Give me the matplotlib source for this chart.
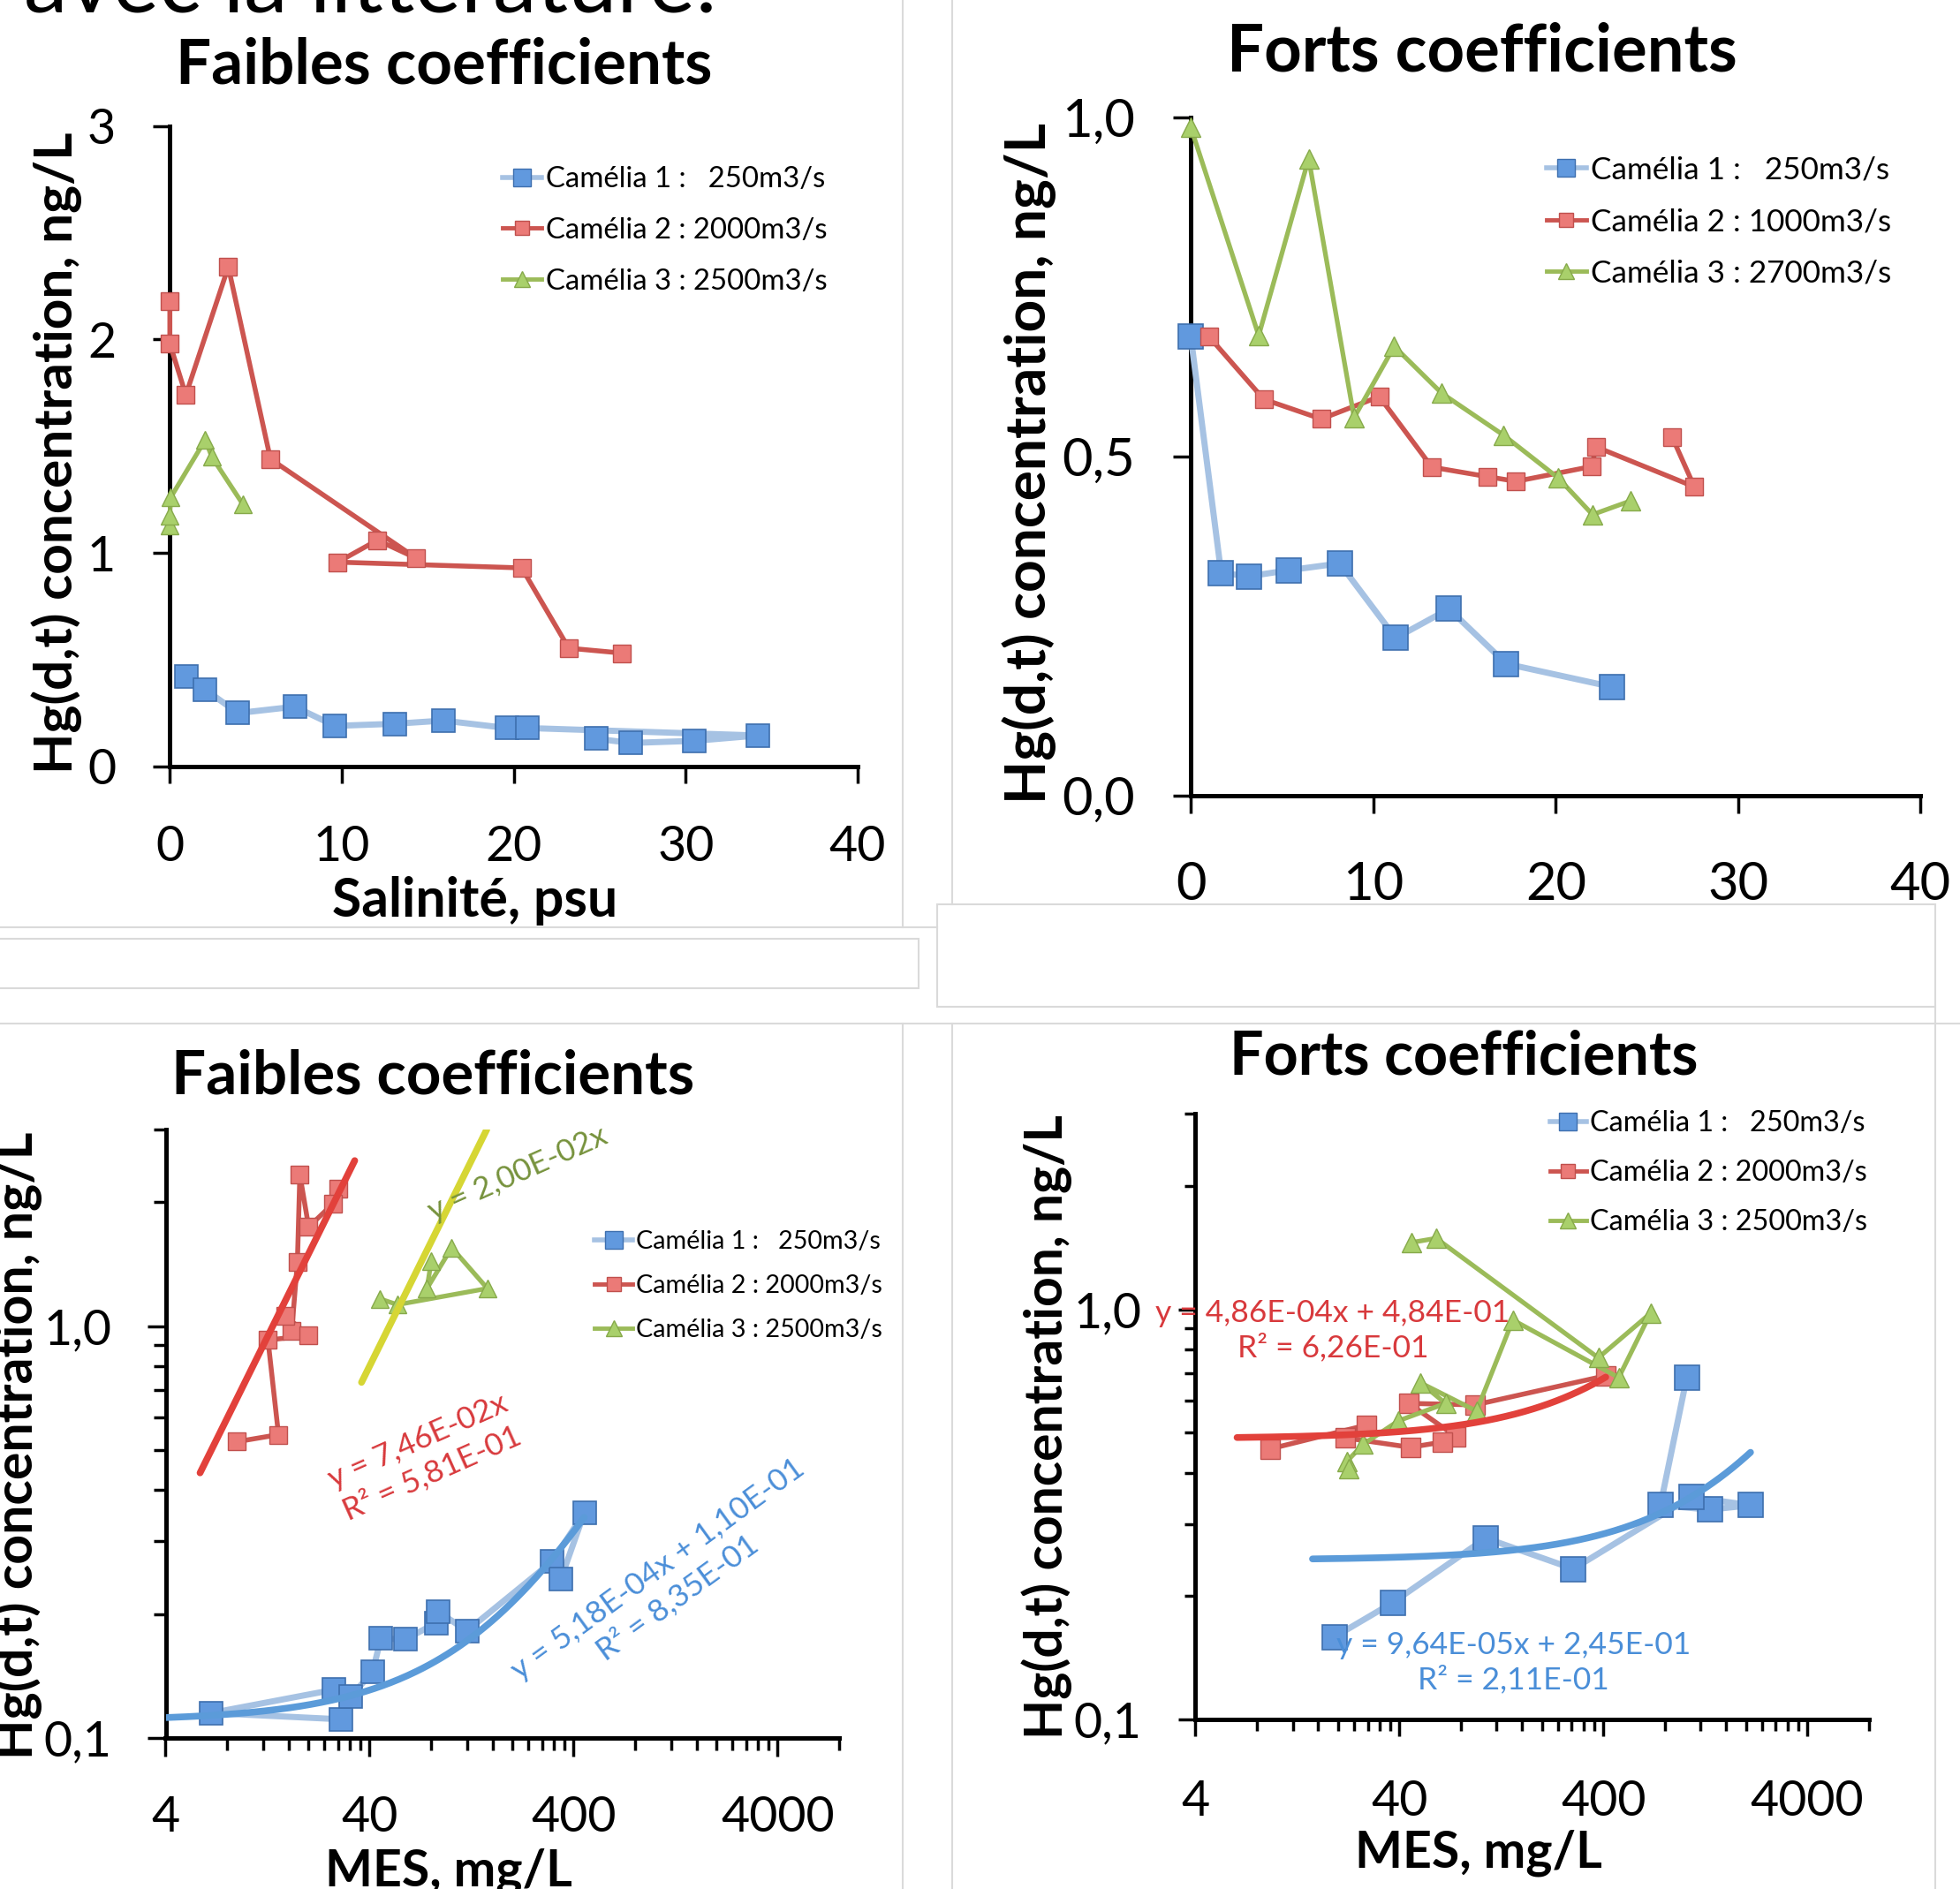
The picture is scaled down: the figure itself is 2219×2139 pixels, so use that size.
import numpy as np
import matplotlib
matplotlib.use('Agg')
import matplotlib.pyplot as plt
from matplotlib.lines import Line2D
from matplotlib.patches import Rectangle
from matplotlib.ticker import NullFormatter

plt.rcParams['font.family'] = ['Lato', 'DejaVu Sans']

W, H = 2219, 2139

# ---------------- data: Hg vs salinity ----------------
sal_low_c1 = [0.96, 2.06, 3.96, 7.26, 9.6, 13.1, 15.9, 19.6, 20.8, 34.2, 30.5, 26.8, 24.8]
hg_low_c1 = [0.42, 0.36, 0.25, 0.28, 0.19, 0.20, 0.215, 0.18, 0.18, 0.145, 0.12, 0.11, 0.13]
sal_low_c2 = [0, 0, 0.93, 3.4, 5.85, 14.34, 12.07, 9.77, 20.46, 23.2, 26.3]
hg_low_c2 = [2.18, 1.98, 1.74, 2.34, 1.44, 0.975, 1.06, 0.957, 0.93, 0.554, 0.531]
sal_low_c3 = [0, 0, 0.05, 2.06, 2.44, 4.23]
hg_low_c3 = [1.13, 1.175, 1.26, 1.53, 1.45, 1.23]

sal_high_c1 = [0, 1.66, 3.18, 5.38, 8.16, 11.23, 14.15, 17.29, 23.07]
hg_high_c1 = [0.676, 0.328, 0.323, 0.332, 0.342, 0.232, 0.275, 0.194, 0.160]
sal_high_c2 = [1.01, 4.0, 7.15, 10.33, 13.21, 16.25, 17.83, 21.99, 22.2, 27.6, 26.39]
hg_high_c2 = [0.676, 0.584, 0.555, 0.588, 0.484, 0.470, 0.463, 0.485, 0.514, 0.455, 0.528]
sal_high_c3 = [0, 3.72, 6.46, 8.95, 11.15, 13.75, 17.15, 20.14, 22.02, 24.08]
hg_high_c3 = [0.985, 0.678, 0.939, 0.557, 0.662, 0.593, 0.531, 0.468, 0.414, 0.434]

# ---------------- data: Hg vs MES (log-log) ----------------
mes_low_c1 = [29.0, 6.69, 26.8, 32.3, 41.4, 45.4, 59.7, 84.5, 86.2, 120, 313, 451, 346]
hgm_low_c1 = [0.111, 0.115, 0.131, 0.126, 0.145, 0.1745, 0.1735, 0.19, 0.203, 0.182, 0.268, 0.352, 0.243]
mes_low_c2 = [28.2, 26.4, 20.1, 18.2, 17.7, 16.6, 15.4, 20.1, 12.7, 14.3, 8.95]
hgm_low_c2 = [2.15, 1.98, 1.74, 2.33, 1.43, 0.972, 1.06, 0.948, 0.925, 0.545, 0.524]
mes_low_c3 = [44.8, 54.7, 151, 101, 76.4, 80.2]
hgm_low_c3 = [1.165, 1.127, 1.234, 1.55, 1.234, 1.44]

mes_high_c1 = [1026, 762, 1330, 2108, 1080, 285, 106, 37.2, 19.2]
hgm_high_c1 = [0.682, 0.333, 0.325, 0.333, 0.349, 0.233, 0.277, 0.193, 0.159]
mes_high_c2 = [411, 94, 44.5, 75.7, 65.2, 45.3, 21.8, 27.5, 9.3]
hgm_high_c2 = [0.689, 0.585, 0.590, 0.490, 0.475, 0.461, 0.486, 0.522, 0.457]
mes_high_c3 = [46.0, 60.6, 378, 681, 476, 144, 95.6, 50.8, 67.4, 39.6, 26.6, 22.1, 22.6]
hgm_high_c3 = [1.456, 1.49, 0.762, 0.978, 0.682, 0.942, 0.565, 0.662, 0.59, 0.535, 0.469, 0.426, 0.41]

# trendlines (Excel equations) and the x-range they cover
trend_low_c1 = (5.18e-4, 1.10e-1, 4, 450)
trend_low_c2 = (7.46e-2, 0.0, 5.9, 33.8)
trend_low_c3 = (2.00e-2, 0.0, 36.5, 150)
trend_high_c1 = (9.64e-5, 2.45e-1, 15, 2108)
trend_high_c2 = (4.86e-4, 4.84e-1, 6.4, 411)

LABELS_A = ['Camélia 1 :   250m3/s', 'Camélia 2 : 2000m3/s', 'Camélia 3 : 2500m3/s']
LABELS_B = ['Camélia 1 :   250m3/s', 'Camélia 2 : 1000m3/s', 'Camélia 3 : 2700m3/s']

BLUE_LINE, BLUE_FACE, BLUE_EDGE = '#a6c2e3', '#6199de', '#3e6fae'
RED_LINE, RED_FACE, RED_EDGE = '#cc5550', '#eb7a77', '#c0504d'
GREEN_LINE, GREEN_FACE, GREEN_EDGE = '#9bbb59', '#a9d06b', '#86a94a'
TREND_BLUE, TREND_RED, TREND_YELLOW = '#5b9bd9', '#e2413b', '#d6d634'
TXT_BLUE, TXT_RED, TXT_GREEN = '#4a8ed8', '#d8393c', '#76923c'
SEP = '#dadada'


def fx(x):
    return x / W


def fy(y):
    return 1 - y / H


def box(x0, y0, x1, y1):
    return [fx(x0), fy(y1), (x1 - x0) / W, (y1 - y0) / H]


fig = plt.figure(figsize=(W / 100, H / 100), dpi=100)
renderer = fig.canvas.get_renderer()


def fit(t, target, vertical=False):
    bb = t.get_window_extent(renderer)
    cur = bb.height if vertical else bb.width
    t.set_fontsize(t.get_fontsize() * target / cur)


def style_axes(ax, ticksize, xpad, ypad, major_len, minor_len=0):
    for s in ['top', 'right']:
        ax.spines[s].set_visible(False)
    for s in ['left', 'bottom']:
        ax.spines[s].set_linewidth(3.6)
    ax.patch.set_visible(False)
    ax.tick_params(which='major', direction='out', length=major_len, width=2.5, labelsize=ticksize)
    ax.tick_params(which='minor', direction='out', length=minor_len, width=2.5)
    ax.tick_params(axis='x', which='major', pad=xpad)
    ax.tick_params(axis='y', which='major', pad=ypad)


def plot_series(ax, x, y, c, scale=1.0):
    if c == 1:
        ax.plot(x, y, color=BLUE_LINE, lw=5, marker='s', ms=19 * scale, mfc=BLUE_FACE,
                mec=BLUE_EDGE, mew=1.2, clip_on=False, zorder=3)
    elif c == 2:
        ax.plot(x, y, color=RED_LINE, lw=4, marker='s', ms=14 * scale, mfc=RED_FACE,
                mec=RED_EDGE, mew=1, clip_on=False, zorder=3)
    else:
        ax.plot(x, y, color=GREEN_LINE, lw=3.8, marker='^', ms=15 * scale, mfc=GREEN_FACE,
                mec=GREEN_EDGE, mew=1, clip_on=False, zorder=3)


def plot_trend(ax, trend, color):
    a, b, x0, x1 = trend
    xs = np.geomspace(x0, x1, 200)
    ax.plot(xs, a * xs + b, color=color, lw=5.5, solid_capstyle='round', zorder=4)


def add_legend(ax, labels, x, y, size, hlen, spacing):
    hs = [Line2D([], [], color=BLUE_LINE, lw=4, marker='s', ms=14, mfc=BLUE_FACE, mec=BLUE_EDGE, mew=1),
          Line2D([], [], color=RED_LINE, lw=3.5, marker='s', ms=12, mfc=RED_FACE, mec=RED_EDGE, mew=1),
          Line2D([], [], color=GREEN_LINE, lw=3.5, marker='^', ms=13, mfc=GREEN_FACE, mec=GREEN_EDGE, mew=1)]
    ax.legend(hs, labels, loc='center left', bbox_to_anchor=(fx(x), fy(y)),
              bbox_transform=fig.transFigure, frameon=False, borderpad=0, borderaxespad=0,
              fontsize=size, handlelength=hlen, handletextpad=0.15, labelspacing=spacing)


def log_ticks(ax):
    ax.set_xscale('log')
    ax.set_yscale('log')
    ax.set_xlim(4, 8000)
    ax.set_ylim(0.1, 3)
    ax.set_xticks([4, 40, 400, 4000], labels=['4', '40', '400', '4000'])
    ax.set_xticks([4 * k * 10 ** n for n in range(4) for k in range(2, 10) if 4 * k * 10 ** n <= 8000], minor=True)
    ax.set_yticks([0.1, 1.0], labels=['0,1', '1,0'])
    ax.set_yticks([k / 10 for k in range(2, 10)] + [2, 3], minor=True)
    ax.xaxis.set_minor_formatter(NullFormatter())
    ax.yaxis.set_minor_formatter(NullFormatter())


# ---------------- slide decorations ----------------
for (x0, y0, x1, y1) in [(1022, 0, 1022, 1050), (1078, 0, 1078, 1024), (0, 1050, 1061, 1050),
                         (0, 1159, 2219, 1159), (1022, 1159, 1022, 2139), (1078, 1159, 1078, 2139),
                         (2191, 1140, 2191, 2139)]:
    fig.add_artist(Line2D([fx(x0), fx(x1)], [fy(y0), fy(y1)], color=SEP, lw=1.5))
fig.add_artist(Rectangle((fx(-5), fy(1119)), (1045) / W, 56 / H, fill=False, ec=SEP, lw=1.5,
                         transform=fig.transFigure))
fig.add_artist(Rectangle((fx(1061), fy(1140)), (2191 - 1061) / W, 116 / H, fill=False, ec=SEP, lw=1.5,
                         transform=fig.transFigure))

t = fig.text(fx(27), fy(14), 'avec la littérature:', ha='left', va='baseline', fontsize=70)
fit(t, 785)

# ---------------- panel 1: low coefficients, salinity ----------------
ax1 = fig.add_axes(box(192.3, 142.6, 971, 867.9))
plot_series(ax1, sal_low_c1, hg_low_c1, 1)
plot_series(ax1, sal_low_c2, hg_low_c2, 2)
plot_series(ax1, sal_low_c3, hg_low_c3, 3)
ax1.set_xlim(0, 40)
ax1.set_ylim(0, 3)
ax1.set_xticks([0, 10, 20, 30, 40])
ax1.set_yticks([0, 1, 2, 3])
style_axes(ax1, 40, 34, 30.5, 13.5)
add_legend(ax1, LABELS_A, 569, 261, 23.7, 1.35, 0.85)

# ---------------- panel 2: high coefficients, salinity ----------------
ax2 = fig.add_axes(box(1348.2, 132.7, 2174.3, 900.6))
plot_series(ax2, sal_high_c1, hg_high_c1, 1, 1.08)
plot_series(ax2, sal_high_c2, hg_high_c2, 2, 1.05)
plot_series(ax2, sal_high_c3, hg_high_c3, 3, 1.05)
ax2.set_xlim(0, 40)
ax2.set_ylim(0, 1)
ax2.set_xticks([0, 10, 20, 30, 40])
ax2.set_yticks([0, 0.5, 1.0], labels=['0,0', '0,5', '1,0'])
style_axes(ax2, 43, 39, 31, 14.5)
add_legend(ax2, LABELS_B, 1751, 251, 25.3, 1.28, 0.75)

# ---------------- panel 3: low coefficients, MES ----------------
ax3 = fig.add_axes(box(187.5, 1279, 950, 1968))
log_ticks(ax3)
plot_series(ax3, mes_low_c1, hgm_low_c1, 1)
plot_series(ax3, mes_low_c2, hgm_low_c2, 2)
plot_series(ax3, mes_low_c3, hgm_low_c3, 3)
plot_trend(ax3, trend_low_c1, TREND_BLUE)
plot_trend(ax3, trend_low_c2, TREND_RED)
plot_trend(ax3, trend_low_c3, TREND_YELLOW)
style_axes(ax3, 40, 32, 29, 15, 10)
add_legend(ax3, LABELS_A, 673, 1456, 20.7, 1.5, 0.85)

# ---------------- panel 4: high coefficients, MES ----------------
ax4 = fig.add_axes(box(1353.4, 1261, 2115.6, 1947.2))
log_ticks(ax4)
plot_series(ax4, mes_high_c1, hgm_high_c1, 1, 1.05)
plot_series(ax4, mes_high_c2, hgm_high_c2, 2, 1.1)
plot_series(ax4, mes_high_c3, hgm_high_c3, 3, 1.05)
plot_trend(ax4, trend_high_c1, TREND_BLUE)
plot_trend(ax4, trend_high_c2, TREND_RED)
style_axes(ax4, 40, 35, 30, 14, 9)
add_legend(ax4, LABELS_A, 1754.5, 1328, 23.3, 1.27, 0.8)

# ---------------- titles and axis labels ----------------
titles = [('Faibles coefficients', 503, 94.7, 607),
          ('Forts coefficients', 1678, 80.7, 578),
          ('Faibles coefficients', 490.5, 1238.3, 593),
          ('Forts coefficients', 1657, 1216.9, 531)]
for s, x, y, w in titles:
    t = fig.text(fx(x), fy(y), s, ha='center', va='baseline', fontsize=48, fontweight='bold')
    fit(t, w)

ylab = 'Hg(d,t) concentration, ng/L'
for x, y, length in [(81.7, 513, 727), (1184, 524, 770), (36.8, 1637, 710), (1203, 1616, 708)]:
    t = fig.text(fx(x), fy(y), ylab, rotation=90, rotation_mode='anchor', ha='center',
                 va='baseline', fontsize=40, fontweight='bold')
    fit(t, length, vertical=True)

for s, x, y, w in [('Salinité, psu', 538, 1038, 323), ('MES, mg/L', 508, 2136, 280),
                   ('MES, mg/L', 1674, 2114.6, 280)]:
    t = fig.text(fx(x), fy(y), s, ha='center', va='baseline', fontsize=40, fontweight='bold')
    fit(t, w)

# trendline equations
eq_kw = dict(ha='center', va='center', rotation_mode='anchor', multialignment='center',
             fontsize=25.5, linespacing=1.25)
fig.text(fx(586), fy(1329), 'y = 2,00E-02x', rotation=24, color=TXT_GREEN, **eq_kw)
fig.text(fx(481), fy(1650), 'y = 7,46E-02x\nR² = 5,81E-01', rotation=24, color=TXT_RED, **eq_kw)
fig.text(fx(756), fy(1793), 'y = 5,18E-04x + 1,10E-01\nR² = 8,35E-01', rotation=36,
         color=TXT_BLUE, **eq_kw)
fig.text(fx(1509), fy(1507), 'y = 4,86E-04x + 4,84E-01\nR² = 6,26E-01', color=TXT_RED, **eq_kw)
fig.text(fx(1713.5), fy(1883), 'y = 9,64E-05x + 2,45E-01\nR² = 2,11E-01', color=TXT_BLUE, **eq_kw)

fig.savefig('out.png', dpi=100)
